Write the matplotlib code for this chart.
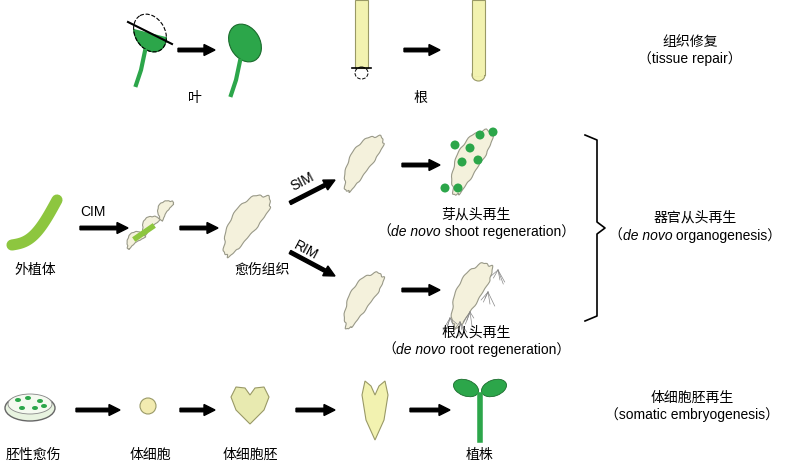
import numpy as np
import matplotlib
matplotlib.use("Agg")
import matplotlib.pyplot as plt
from matplotlib.patches import Polygon, Ellipse, Circle, FancyArrow, Rectangle

plt.rcParams['font.family'] = ['Liberation Sans', 'Noto Sans CJK SC', 'DejaVu Sans']

# ---- labels ----
ROW1_LABELS = [("叶", 195, 98), ("根", 420, 98)]
ROW2_LABELS = [("外植体", 35, 270), ("愈伤组织", 262, 270)]
ROW3_LABELS = [("胚性愈伤", 33, 455), ("体细胞", 150, 455), ("体细胞胚", 250, 455), ("植株", 480, 455)]
MEDIA = [("CIM", 93, 212, 0), ("SIM", 302, 182, 28), ("RIM", 306, 250, -28)]
RIGHT_TITLES = [("组织修复", "（tissue repair）", 690, 42),
                ("器官从头再生", None, 695, 218),
                ("体细胞胚再生", "（somatic embryogenesis）", 692, 398)]
DENOVO = [(" organogenesis）", 695, 236),
          (" shoot regeneration）", 476, 232),
          (" root regeneration）", 476, 350)]
SUB_TITLES = [("芽从头再生", 476, 215), ("根从头再生", 476, 333)]
ARROWS = [(178, 50, 215, 50), (404, 50, 440, 50),
          (80, 228, 128, 228), (180, 228, 218, 228),
          (290, 203, 335, 180), (290, 252, 335, 276),
          (402, 165, 440, 165), (402, 290, 440, 290),
          (76, 410, 120, 410), (180, 410, 215, 410),
          (296, 410, 335, 410), (410, 410, 450, 410)]

GREEN = "#2ca64a"
LGREEN = "#8dc63f"
CREAM = "#f4f1dc"
YEL = "#f2f2b0"

fig = plt.figure(figsize=(8, 4.72), dpi=100)
ax = fig.add_axes([0, 0, 1, 1])
ax.set_xlim(0, 800)
ax.set_ylim(472, 0)
ax.axis("off")


def arrow(x0, y0, x1, y1):
    ax.add_patch(FancyArrow(x0, y0, x1 - x0, y1 - y0, width=3.5, head_width=11,
                            head_length=11, length_includes_head=True, color="black"))


def callus(cx, cy, L, W, ang, seed=0):
    t = np.linspace(0, 2 * np.pi, 90)
    r = 1 + 0.035 * np.sin(9 * t + seed) + 0.025 * np.sin(17 * t + 2 * seed)
    x = L / 2 * np.cos(t) * r
    y = W / 2 * np.sin(t) * r * (1 + 0.25 * np.cos(t)) + 4 * np.cos(2 * t) * np.sign(np.sin(t)) * 0
    y = y + 5 * (np.cos(t) ** 2 - 0.5)
    a = np.deg2rad(ang)
    xs = cx + x * np.cos(a) - y * np.sin(a)
    ys = cy + x * np.sin(a) + y * np.cos(a)
    ax.add_patch(Polygon(np.c_[xs, ys], fc=CREAM, ec="#999988", lw=0.8))


def leaf(cx, cy, cut=False):
    e = Ellipse((cx, cy - 12), 30, 40, angle=-30, fc=GREEN, ec="#1a6b2c", lw=0.8)
    ax.add_patch(e)
    ax.plot([cx - 5, cx - 9, cx - 14], [cy + 6, cy + 25, cy + 40], color=GREEN, lw=3)
    if cut:
        clip = Polygon([[cx - 40, cy - 22], [cx + 40, cy - 2], [cx + 40, cy + 60],
                        [cx - 40, cy + 60]], transform=ax.transData)
        e.set_clip_path(clip)
        ax.add_patch(Ellipse((cx, cy - 12), 30, 40, angle=-30, fc="none", ec="black",
                             lw=0.8, ls="--"))
        ax.plot([cx - 22, cx + 22], [cy - 23, cy - 1], color="black", lw=1.5)


# row 1
leaf(150, 45, cut=True)
leaf(245, 55)
ax.add_patch(Rectangle((355, 0), 13, 68, fc=YEL, ec="#999966", lw=0.8))
ax.plot([352, 371], [68, 68], color="black", lw=1.2)
ax.add_patch(Ellipse((361.5, 73), 13, 12, fc="none", ec="black", lw=0.7, ls="--"))
ax.add_patch(Ellipse((478.5, 75), 13, 12, fc=YEL, ec="#999966", lw=0.8))
ax.add_patch(Rectangle((472, 0), 13, 75, fc=YEL, ec="#999966", lw=0.8))
ax.add_patch(Rectangle((472.6, 70), 11.8, 6, fc=YEL, ec="none"))

# row 2
t = np.linspace(0, 1, 30)
ax.plot(12 + 45 * t, 245 - 45 * t + 12 * np.sin(np.pi * t), color=LGREEN, lw=8,
        solid_capstyle="round")
for (cx, cy, ang) in [(135, 240, -40), (150, 225, -50), (165, 210, -60)]:
    callus(cx, cy, 22, 10, ang, seed=cx)
ax.plot([136, 152], [238, 227], color=LGREEN, lw=4)
callus(245, 225, 72, 26, -55, 1)
callus(362, 163, 64, 22, -58, 2)
callus(470, 162, 72, 24, -62, 3)
callus(362, 300, 64, 22, -58, 4)
callus(470, 295, 72, 24, -62, 5)
for (x, y) in [(445, 188), (458, 188), (462, 162), (478, 160), (470, 148), (480, 135),
               (493, 132), (455, 145)]:
    ax.add_patch(Circle((x, y), 4.5, fc=GREEN, ec="none"))
for i, (x, y) in enumerate([(450, 318), (470, 312), (488, 292), (498, 270), (460, 322)]):
    for k in range(5):
        ax.plot([x, x + 7 * np.cos(k + i)], [y, y + 6 + 2 * k], color="#888888", lw=0.5)
# bracket
ax.plot([585, 597, 597, 605, 597, 597, 585], [135, 140, 222, 228, 234, 316, 321],
        color="black", lw=1.2)

# row 3
ax.add_patch(Ellipse((30, 408), 50, 26, fc="#e8f3e0", ec="#666666", lw=1))
ax.add_patch(Ellipse((30, 404), 44, 20, fc="#f5faf0", ec="#888888", lw=0.6))
for (x, y) in [(18, 400), (28, 398), (40, 401), (22, 408), (35, 408), (44, 406)]:
    ax.add_patch(Ellipse((x, y), 6, 4, fc=GREEN, ec="none"))
ax.add_patch(Circle((148, 406), 8, fc="#f2ebb0", ec="#999966", lw=0.8))
ax.add_patch(Polygon([(250, 424), (236, 410), (231, 397), (236, 387), (245, 388), (250, 395),
                      (255, 388), (264, 387), (269, 397), (264, 410)], closed=True,
                     fc="#e8eab0", ec="#999966", lw=0.8))
ax.add_patch(Polygon([(375, 440), (366, 420), (362, 395), (365, 381), (371, 386), (375, 395),
                      (379, 386), (385, 381), (388, 395), (384, 420)], closed=True,
                     fc=YEL, ec="#999966", lw=0.8))
ax.plot([480, 480], [395, 440], color=GREEN, lw=4)
ax.add_patch(Ellipse((466, 388), 26, 16, angle=20, fc=GREEN, ec="#1a6b2c", lw=0.6))
ax.add_patch(Ellipse((494, 388), 26, 16, angle=-20, fc=GREEN, ec="#1a6b2c", lw=0.6))

for a in ARROWS:
    arrow(*a)

fs = 10
for lab, x, y in ROW1_LABELS + ROW2_LABELS + ROW3_LABELS:
    ax.text(x, y, lab, ha="center", va="center", fontsize=fs)
for lab, x, y, r in MEDIA:
    ax.text(x, y, lab, ha="center", va="center", fontsize=fs, rotation=r)
for t1, t2, x, y in RIGHT_TITLES:
    ax.text(x, y, t1, ha="center", va="center", fontsize=fs)
    if t2:
        ax.text(x, y + 17, t2, ha="center", va="center", fontsize=fs)
for lab, x, y in SUB_TITLES:
    ax.text(x, y, lab, ha="center", va="center", fontsize=fs)

# mixed italic lines
fig.canvas.draw()
rend = fig.canvas.get_renderer()
inv = ax.transData.inverted()
for rest, x, y in DENOVO:
    parts = [("（", "normal"), ("de novo", "italic"), (rest, "normal")]
    objs = [ax.text(0, y, p, fontsize=fs, style=s, va="center") for p, s in parts]
    widths = []
    for o in objs:
        bb = o.get_window_extent(rend)
        x0 = inv.transform((bb.x0, bb.y0))[0]
        x1 = inv.transform((bb.x1, bb.y0))[0]
        widths.append(x1 - x0)
    cur = x - sum(widths) / 2
    for o, w in zip(objs, widths):
        o.set_x(cur)
        cur += w

fig.savefig("out.png", dpi=100)
